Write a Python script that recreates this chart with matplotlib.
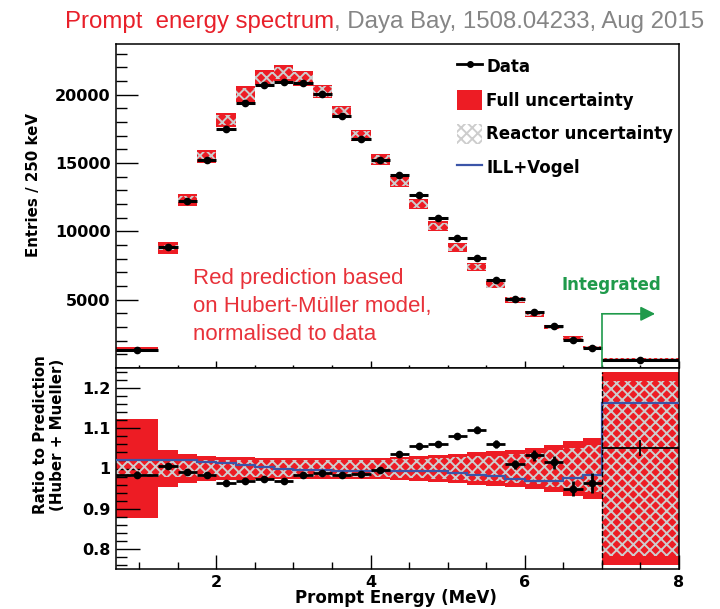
import numpy as np
import matplotlib
matplotlib.use('Agg')
import matplotlib.pyplot as plt
from matplotlib.lines import Line2D
from matplotlib.patches import Patch
from matplotlib.ticker import MultipleLocator, FixedLocator

# bin edges in prompt energy (MeV), last bin is the integrated 7-8 MeV bin
bin_edges = [0.7, 1.25, 1.5, 1.75, 2.0, 2.25, 2.5, 2.75, 3.0, 3.25, 3.5, 3.75,
             4.0, 4.25, 4.5, 4.75, 5.0, 5.25, 5.5, 5.75, 6.0, 6.25, 6.5, 6.75,
             7.0, 8.0]

# measured entries / 250 keV
data_entries = [1340, 8835, 12194, 15212, 17452, 19399, 20665, 20932, 20859,
                20007, 18425, 16770, 15212, 14117, 12657, 11002, 9541, 8081,
                6450, 5038, 4065, 3043, 2069, 1436, 608]

# data / prediction (Huber + Mueller)
data_ratio = [0.985, 1.006, 0.992, 0.984, 0.963, 0.968, 0.973, 0.970, 0.984,
              0.989, 0.984, 0.986, 0.996, 1.035, 1.056, 1.061, 1.081, 1.097,
              1.061, 1.010, 1.033, 1.015, 0.950, 0.964, 1.051]
ratio_err = [0.008, 0.007, 0.006, 0.006, 0.006, 0.006, 0.006, 0.006, 0.006,
             0.006, 0.006, 0.006, 0.006, 0.006, 0.007, 0.007, 0.008, 0.009,
             0.010, 0.012, 0.014, 0.015, 0.018, 0.024, 0.021]

# relative half-widths of the prediction uncertainty bands
full_unc = [0.124, 0.047, 0.035, 0.030, 0.028, 0.028, 0.027, 0.027, 0.026,
            0.025, 0.025, 0.025, 0.026, 0.029, 0.032, 0.034, 0.036, 0.040,
            0.043, 0.046, 0.051, 0.059, 0.069, 0.077, 0.240]
reactor_unc = [0.022, 0.021, 0.021, 0.021, 0.021, 0.021, 0.021, 0.021, 0.021,
               0.021, 0.021, 0.021, 0.022, 0.023, 0.024, 0.026, 0.028, 0.030,
               0.032, 0.035, 0.039, 0.045, 0.052, 0.058, 0.217]

# ILL+Vogel prediction relative to Huber + Mueller
ill_vogel = [1.021, 1.021, 1.020, 1.017, 1.014, 1.008, 1.004, 1.000, 0.997,
             0.996, 0.994, 0.994, 0.994, 0.994, 0.994, 0.994, 0.989, 0.985,
             0.981, 0.973, 0.968, 0.968, 0.977, 0.985, 1.164]

RED = '#ed1c24'
HATCH_GREY = '#cdcdcd'
BLUE = '#3b55a8'
GREEN = '#1f9a4b'
HATCH = 'xxx'

plt.rcParams['font.family'] = 'DejaVu Sans'
plt.rcParams['hatch.linewidth'] = 1.4

edges = np.array(bin_edges)
centers = 0.5 * (edges[:-1] + edges[1:])
widths = np.diff(edges)
entries = np.array(data_entries, dtype=float)
ratio = np.array(data_ratio)
full = np.array(full_unc)
reac = np.array(reactor_unc)
pred = entries / ratio

W, H = 720, 609
fig = plt.figure(figsize=(W / 100, H / 100), dpi=100)
ax1 = fig.add_axes([116 / W, 1 - 368 / H, 563 / W, 324 / H])
ax2 = fig.add_axes([116 / W, 1 - 569 / H, 563 / W, 201 / H])

# ---- upper panel: spectrum
ax1.bar(centers, 2 * full * pred, bottom=pred * (1 - full), width=widths,
        color=RED, lw=0, zorder=1)
ax1.bar(centers, 2 * reac * pred, bottom=pred * (1 - reac), width=widths,
        facecolor='none', edgecolor=HATCH_GREY, hatch=HATCH, lw=0, zorder=2)
ax1.errorbar(centers, entries, xerr=widths / 2, fmt='o', color='k', ms=4.5,
             elinewidth=2.2, capsize=0, zorder=4)

ax1.set_xlim(0.7, 8.0)
ax1.set_ylim(0, 23700)
ax1.xaxis.set_major_locator(FixedLocator([2, 4, 6, 8]))
ax1.xaxis.set_minor_locator(MultipleLocator(0.5))
ax1.yaxis.set_major_locator(FixedLocator([5000, 10000, 15000, 20000]))
ax1.yaxis.set_minor_locator(MultipleLocator(1000))
ax1.tick_params(axis='x', which='both', direction='in', labelbottom=False,
                width=1)
ax1.tick_params(axis='x', which='major', length=5)
ax1.tick_params(axis='x', which='minor', length=2.5)
ax1.tick_params(axis='y', which='both', direction='in', width=1, pad=4)
ax1.tick_params(axis='y', which='major', length=16, labelsize=11.5)
ax1.tick_params(axis='y', which='minor', length=8)
for lab in ax1.get_yticklabels():
    lab.set_fontweight('bold')

# integrated marker
ax1.plot([7.0, 7.0], [0, 3964], color=GREEN, lw=1.2, zorder=5)
ax1.annotate('', xy=(7.69, 3964), xytext=(7.0, 3964),
             arrowprops=dict(arrowstyle='-|>', color=GREEN, lw=1.2,
                             mutation_scale=22, shrinkA=0, shrinkB=0))
ax1.text(6.47, 6080, 'Integrated', color=GREEN, fontsize=12,
         fontweight='bold', va='center', ha='left')

ax1.text(193 / W, 1 - 268 / H,
         'Red prediction based\non Hubert-Müller model,\nnormalised to data',
         transform=fig.transFigure, color='#e8323a', fontsize=16,
         family='Liberation Sans', va='top', ha='left', linespacing=1.45)

handles = [
    Line2D([], [], color='k', marker='o', ms=4, lw=2),
    Patch(facecolor=RED, lw=0),
    Patch(facecolor='white', edgecolor=HATCH_GREY, hatch=HATCH, lw=0),
    Line2D([], [], color=BLUE, lw=1.6),
]
labels = ['Data', 'Full uncertainty', 'Reactor uncertainty', 'ILL+Vogel']
ax1.legend(handles, labels, loc='upper left', bbox_to_anchor=(0.6057, 0.962),
           frameon=False, borderpad=0, borderaxespad=0, handlelength=1.5,
           handleheight=1.45, handletextpad=0.25, labelspacing=0.84,
           prop={'weight': 'bold', 'size': 12})

# ---- lower panel: ratio
ax2.bar(centers, 2 * full, bottom=1 - full, width=widths, color=RED, lw=0,
        zorder=1)
ax2.bar(centers, 2 * reac, bottom=1 - reac, width=widths, facecolor='none',
        edgecolor=HATCH_GREY, hatch=HATCH, lw=0, zorder=2)
ax2.stairs(ill_vogel, edges, baseline=None, color=BLUE, lw=1.6, zorder=3)
ax2.errorbar(centers[:-1], ratio[:-1], xerr=widths[:-1] / 2,
             yerr=np.array(ratio_err[:-1]), fmt='o', color='k', ms=4.5,
             elinewidth=2.0, capsize=0, zorder=4)
ax2.errorbar(centers[-1:], ratio[-1:], xerr=widths[-1:] / 2,
             yerr=np.array(ratio_err[-1:]), fmt='none', ecolor='k',
             elinewidth=1.3, capsize=0, zorder=4)
ax2.vlines(edges[-2], 1 - full[-1], 1 + full[-1], colors='k',
           linestyles='--', lw=1.0, zorder=5)

ax2.set_xlim(0.7, 8.0)
ax2.set_ylim(0.75, 1.25)
ax2.xaxis.set_major_locator(FixedLocator([2, 4, 6, 8]))
ax2.xaxis.set_minor_locator(MultipleLocator(0.5))
ax2.yaxis.set_major_locator(FixedLocator([0.8, 0.9, 1.0, 1.1, 1.2]))
ax2.yaxis.set_minor_locator(MultipleLocator(0.02))
ax2.set_xticklabels(['2', '4', '6', '8'])
ax2.set_yticklabels(['0.8', '0.9', '1', '1.1', '1.2'])
ax2.tick_params(axis='both', which='both', direction='in', width=1)
ax2.tick_params(axis='x', which='major', length=10, labelsize=11.5, pad=4)
ax2.tick_params(axis='x', which='minor', length=5)
ax2.tick_params(axis='y', which='major', length=17, labelsize=11.5, pad=4)
ax2.tick_params(axis='y', which='minor', length=8)
for lab in ax2.get_xticklabels() + ax2.get_yticklabels():
    lab.set_fontweight('bold')

for ax in (ax1, ax2):
    for sp in ax.spines.values():
        sp.set_linewidth(1.1)

fig.text(396 / W, 1 - 598 / H, 'Prompt Energy (MeV)', fontsize=12,
         fontweight='bold', ha='center', va='center')
fig.text(34 / W, 1 - 185 / H, 'Entries / 250 keV', fontsize=10.8,
         fontweight='bold', rotation=90, ha='center', va='center')
fig.text(49 / W, 1 - 435 / H, 'Ratio to Prediction\n(Huber + Mueller)',
         fontsize=10.8, fontweight='bold', rotation=90, ha='center',
         va='center', multialignment='center')

# title in two colours
t1 = fig.text(65 / W, 1 - 22 / H, 'Prompt  energy spectrum', color='#e8202a',
              fontsize=17.3, family='Liberation Sans', va='center', ha='left')
ax1.annotate(', Daya Bay, 1508.04233, Aug 2015', xy=(1, 0), xycoords=t1,
             va='bottom', ha='left', color='#858585', fontsize=17.3,
             family='Liberation Sans', annotation_clip=False)

fig.savefig('out.png', dpi=100)
